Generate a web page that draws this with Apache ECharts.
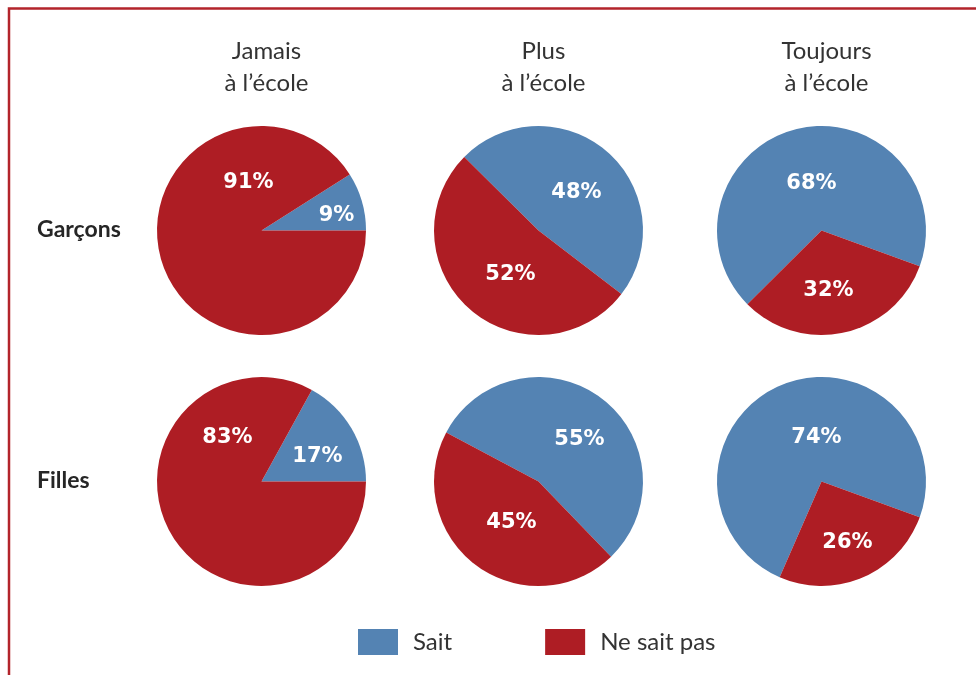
<!DOCTYPE html>
<html>
<head>
<meta charset="utf-8">
<script src="https://cdn.jsdelivr.net/npm/echarts@6/dist/echarts.min.js"></script>
<style>
html,body{margin:0;padding:0;background:#fff;}
#chart{width:976px;height:675px;}
</style>
</head>
<body>
<div id="chart"></div>
<script>
// ---- Data ----
var columns = ['Jamais\nà l\u2019école', 'Plus\nà l\u2019école', 'Toujours\nà l\u2019école'];
var rows = ['Garçons', 'Filles'];
var categories = ['Sait', 'Ne sait pas'];
var saitGarcons = [9, 48, 68];
var neSaitPasGarcons = [91, 52, 32];
var saitFilles = [17, 55, 74];
var neSaitPasFilles = [83, 45, 26];

// ---- Layout config ----
var colX = [261.5, 538.5, 821.5];
var rowY = [230.5, 481.5];
var radius = 104.5;
var startAngles = [[0, -37.5, -20], [0, -46, -20]];
// label offsets from pie center [ [dxSait,dySait], [dxNsp,dyNsp] ]
var labelOffsets = [
  [[[75, -15], [-13, -48]], [[38, -38], [-28, 44]], [[-10, -47], [7, 60]]],
  [[[56, -25], [-34, -44]], [[41, -42], [-27, 41]], [[-5, -44], [26, 61]]]
];
var BLUE = '#5483B3';
var RED = '#AE1D24';

var saitRows = [saitGarcons, saitFilles];
var nspRows = [neSaitPasGarcons, neSaitPasFilles];

var series = [];
for (var r = 0; r < 2; r++) {
  for (var c = 0; c < 3; c++) {
    (function (r, c) {
      series.push({
        type: 'pie',
        center: [colX[c], rowY[r]],
        radius: [0, radius],
        startAngle: startAngles[r][c],
        clockwise: false,
        silent: true,
        avoidLabelOverlap: false,
        labelLine: { show: false },
        emphasis: { disabled: true },
        label: {
          show: true,
          position: 'inside',
          formatter: '{c}%',
          color: '#fff',
          fontFamily: 'DejaVu Sans',
          fontWeight: 'bold',
          fontSize: 21,
          align: 'center',
          verticalAlign: 'middle'
        },
        labelLayout: function (p) {
          var o = labelOffsets[r][c][p.dataIndex];
          return { x: colX[c] + o[0], y: rowY[r] + o[1], align: 'center', verticalAlign: 'middle' };
        },
        data: [
          { name: categories[0], value: saitRows[r][c], itemStyle: { color: BLUE } },
          { name: categories[1], value: nspRows[r][c], itemStyle: { color: RED } }
        ]
      });
    })(r, c);
  }
}

var titles = [];
for (var c = 0; c < 3; c++) {
  titles.push({
    text: columns[c],
    left: colX[c],
    top: 30,
    textAlign: 'center',
    textStyle: { fontFamily: 'Lato', fontWeight: 'normal', fontSize: 24, color: '#333', lineHeight: 32 }
  });
}
for (var r = 0; r < 2; r++) {
  titles.push({
    text: rows[r],
    left: 32,
    top: rowY[r] - 20,
    textStyle: { fontFamily: 'Lato', fontWeight: 'bold', fontSize: 23, color: '#262626', lineHeight: 28 }
  });
}

var chart = echarts.init(document.getElementById('chart'), null, { renderer: 'canvas' });
chart.setOption({
  animation: false,
  backgroundColor: '#fff',
  title: titles,
  legend: {
    data: categories,
    left: 353,
    top: 624,
    itemWidth: 40,
    itemHeight: 26,
    itemGap: 93,
    icon: 'rect',
    selectedMode: false,
    textStyle: { fontFamily: 'Lato', fontSize: 24, color: '#333', padding: [0, 0, 0, 10] }
  },
  graphic: [{
    type: 'rect',
    silent: true,
    shape: { x: 9, y: 8.5, width: 1100, height: 800 },
    style: { fill: 'none', stroke: '#B3242B', lineWidth: 2.5 }
  }],
  series: series
});
</script>
</body>
</html>
